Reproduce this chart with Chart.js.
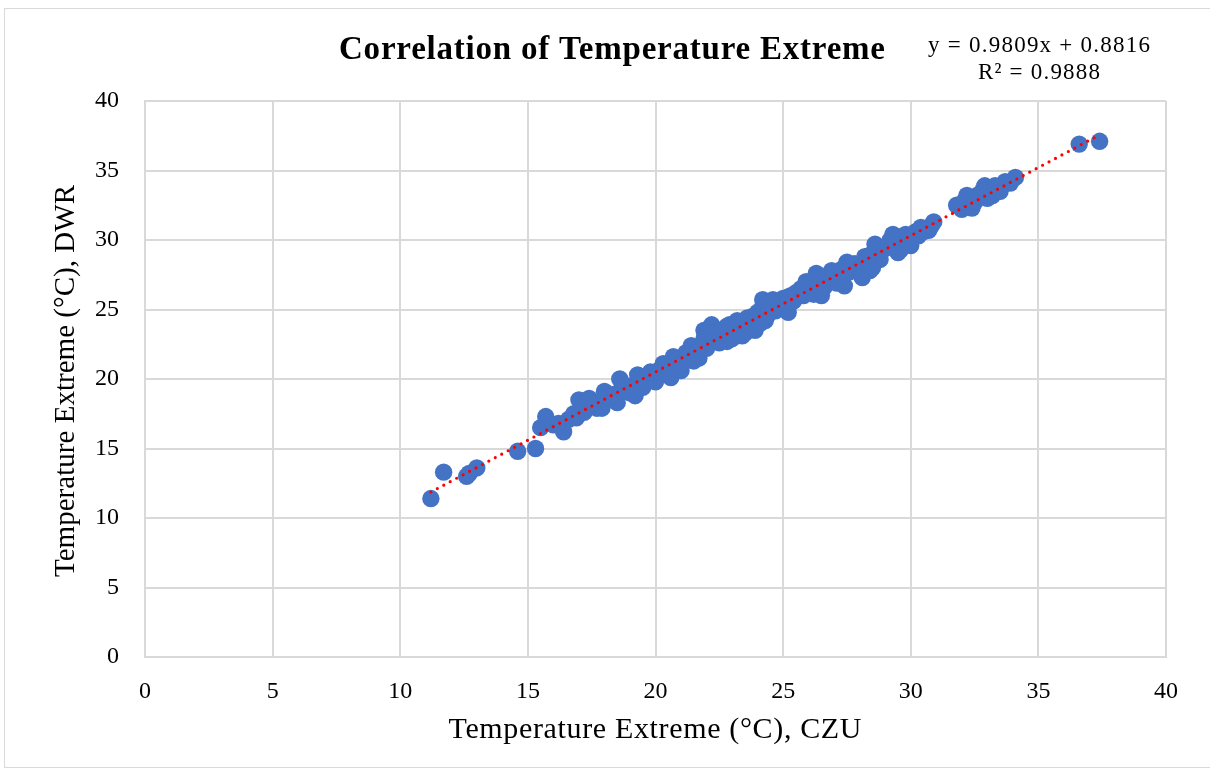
<!DOCTYPE html>
<html>
<head>
<meta charset="utf-8">
<script src="https://cdn.jsdelivr.net/npm/chart.js@4.4.0/dist/chart.umd.min.js"></script>
<style>
  html, body { margin: 0; padding: 0; background: #fff; }
  #wrap { position: relative; width: 1210px; height: 772px; overflow: hidden; }
  #frame { position: absolute; left: 4px; top: 8px; width: 1220px; height: 758px; border: 1px solid #d9d9d9; }
  #chart { position: absolute; left: 0; top: 0; }
</style>
</head>
<body>
<div id="wrap">
  <div id="frame"></div>
  <canvas id="chart" width="1210" height="772"></canvas>
</div>
<script>
// CZU (x) vs DWR (y) temperature extremes
const czu = [
  11.2, 11.7, 12.6, 12.7, 13.0, 14.6, 15.3, 15.5, 15.7, 16.0,
  16.4, 16.6, 16.9, 17.0, 17.2, 17.4, 17.7, 18.0, 17.9, 18.5,
  18.6, 18.9, 19.2, 19.3, 19.5, 19.7, 20.0, 20.3, 20.6, 20.7,
  21.0, 21.2, 21.4, 21.7, 21.9, 22.1, 22.2, 22.4, 22.6, 22.9,
  22.8, 23.2, 23.4, 23.6, 23.9, 24.0, 24.2, 24.3, 24.6, 24.8,
  25.0, 25.3, 25.2, 25.7, 25.9, 26.1, 26.3, 26.5, 26.8, 26.9,
  27.2, 27.4, 27.5, 27.9, 28.1, 28.2, 28.5, 28.6, 29.0, 29.2,
  29.3, 29.6, 29.8, 30.0, 30.2, 30.4, 30.7, 30.9, 31.8, 32.0,
  32.2, 32.4, 32.6, 32.9, 33.2, 33.4, 33.7, 34.1, 36.6, 37.4,
  21.8, 21.9, 22.0, 22.1, 22.3, 22.5, 22.7, 22.8, 23.0, 23.1,
  23.3, 23.5, 23.7, 23.8, 24.1, 24.2, 24.4, 24.5, 24.7, 24.9,
  25.1, 25.2, 25.4, 25.5, 25.8, 26.0, 26.2, 26.4, 26.6, 26.7,
  27.0, 27.1, 27.3, 27.6, 27.8, 28.0, 28.3, 28.4, 28.7, 28.8,
  29.1, 29.4, 29.5, 29.7, 30.1, 30.3, 30.5, 30.8,
  16.2, 16.8, 17.3, 17.6, 18.2, 18.4, 18.7, 19.0, 19.4, 19.8,
  20.1, 20.4, 20.9, 21.1, 21.3, 21.6,
  32.1, 32.5, 32.8, 33.0, 33.3, 33.5, 33.9,
  20.6, 21.5, 23.0, 24.6, 26.2, 27.4, 28.4, 29.9
];
const dwr = [
  11.4, 13.3, 13.0, 13.2, 13.6, 14.8, 15.0, 16.5, 17.3, 16.7,
  16.2, 17.1, 17.2, 18.5, 17.6, 18.6, 17.9, 19.1, 17.9, 18.3,
  20.0, 19.5, 18.8, 20.3, 19.4, 20.2, 19.8, 21.1, 20.1, 21.6,
  20.6, 21.9, 22.4, 21.5, 23.5, 22.8, 23.9, 22.8, 23.5, 23.9,
  22.7, 24.2, 23.1, 24.4, 23.5, 24.8, 25.7, 24.2, 25.7, 25.1,
  25.8, 26.0, 24.8, 26.5, 27.0, 26.4, 27.6, 26.0, 27.0, 27.8,
  27.3, 26.7, 28.4, 28.0, 27.3, 28.8, 28.0, 29.7, 29.4, 30.0,
  30.4, 29.3, 30.4, 29.6, 30.6, 30.9, 30.7, 31.3, 32.5, 32.2,
  33.2, 32.3, 33.2, 33.9, 33.2, 33.7, 34.2, 34.5, 36.9, 37.1,
  22.3, 22.9, 22.2, 23.3, 23.0, 22.6, 23.2, 23.8, 22.9, 23.7,
  24.0, 23.3, 23.8, 24.5, 24.0, 25.2, 24.6, 25.5, 24.9, 25.3,
  25.0, 25.9, 25.6, 26.2, 26.0, 26.8, 26.1, 27.0, 26.6, 27.4,
  27.6, 26.9, 27.9, 27.7, 28.3, 28.0, 28.6, 27.8, 29.0, 28.6,
  29.5, 29.8, 29.1, 30.1, 30.2, 30.3, 30.6, 31.0,
  16.8, 17.5, 18.1, 18.3, 18.7, 18.9, 19.2, 19.0, 20.0, 20.5,
  20.6, 21.0, 21.4, 21.2, 21.6, 22.0,
  32.8, 32.7, 33.5, 33.0, 33.9, 33.5, 34.1,
  20.8, 21.3, 23.4, 24.9, 26.5, 27.7, 28.9, 30.2
];
// linear trend y = 0.9809x + 0.8816, endpoints
const trendX = [11.2, 37.4];
const trendY = [11.87, 37.57];
const xTicks = [0, 5, 10, 15, 20, 25, 30, 35, 40];
const yTicks = [0, 5, 10, 15, 20, 25, 30, 35, 40];
const chartTitle = "Correlation of Temperature Extreme";
const eqLines = ["y = 0.9809x + 0.8816", "R² = 0.9888"];
const xTitle = "Temperature Extreme (°C), CZU";
const yTitle = "Temperature Extreme (°C), DWR";

const serif = "'Liberation Serif', 'Times New Roman', serif";

// draw text centred at (x, y), spread out a little if narrower than width
function spreadText(ctx, text, x, y, font, width) {
  ctx.font = font;
  ctx.letterSpacing = "0px";
  const w = ctx.measureText(text).width;
  const sp = Math.max(0, (width - w) / (text.length - 1));
  ctx.letterSpacing = sp + "px";
  ctx.fillText(text, x + sp / 2, y);
  ctx.letterSpacing = "0px";
}

const textLayer = {
  id: "textLayer",
  afterDraw(chart) {
    const ctx = chart.ctx;
    ctx.save();
    ctx.fillStyle = "#000";
    ctx.textAlign = "center";
    ctx.textBaseline = "middle";
    spreadText(ctx, chartTitle, 612, 50, "bold 33px " + serif, 546);
    spreadText(ctx, eqLines[0], 1039, 46, "23px " + serif, 222);
    spreadText(ctx, eqLines[1], 1039, 73, "23px " + serif, 122);
    spreadText(ctx, xTitle, 655, 730, "30px " + serif, 413);
    ctx.translate(66, 381);
    ctx.rotate(-Math.PI / 2);
    spreadText(ctx, yTitle, 0, 0, "29px " + serif, 392);
    ctx.restore();
  }
};

new Chart(document.getElementById("chart"), {
  type: "scatter",
  data: {
    datasets: [
      {
        label: "points",
        data: czu.map((x, i) => ({ x: x, y: dwr[i] })),
        backgroundColor: "#4472C4",
        borderColor: "#4472C4",
        borderWidth: 0,
        pointRadius: 8.7,
        pointHoverRadius: 8.7,
        order: 2
      },
      {
        label: "trend",
        type: "line",
        data: trendX.map((x, i) => ({ x: x, y: trendY[i] })),
        borderColor: "#ff0000",
        borderWidth: 3.2,
        borderDash: [0, 7.3],
        borderCapStyle: "round",
        pointRadius: 0,
        fill: false,
        order: 1
      }
    ]
  },
  options: {
    responsive: false,
    animation: false,
    layout: { padding: { left: 4, right: 44, top: 101, bottom: 0 } },
    plugins: {
      legend: { display: false },
      tooltip: { enabled: false },
      title: { display: false }
    },
    scales: {
      x: {
        type: "linear",
        min: 0, max: 40,
        afterBuildTicks: (s) => { s.ticks = xTicks.map(v => ({ value: v })); },
        afterFit: (s) => { s.height = 115; },
        grid: { color: "#d9d9d9", lineWidth: 2, drawTicks: false },
        border: { color: "#d9d9d9", width: 2 },
        ticks: { color: "#000", font: { family: serif, size: 24 }, padding: 20 }
      },
      y: {
        type: "linear",
        min: 0, max: 40,
        afterBuildTicks: (s) => { s.ticks = yTicks.map(v => ({ value: v })); },
        afterFit: (s) => { s.width = 141; },
        grid: { color: "#d9d9d9", lineWidth: 2, drawTicks: false },
        border: { color: "#d9d9d9", width: 2 },
        ticks: { color: "#000", font: { family: serif, size: 24 }, padding: 26 }
      }
    }
  },
  plugins: [textLayer]
});
</script>
</body>
</html>
